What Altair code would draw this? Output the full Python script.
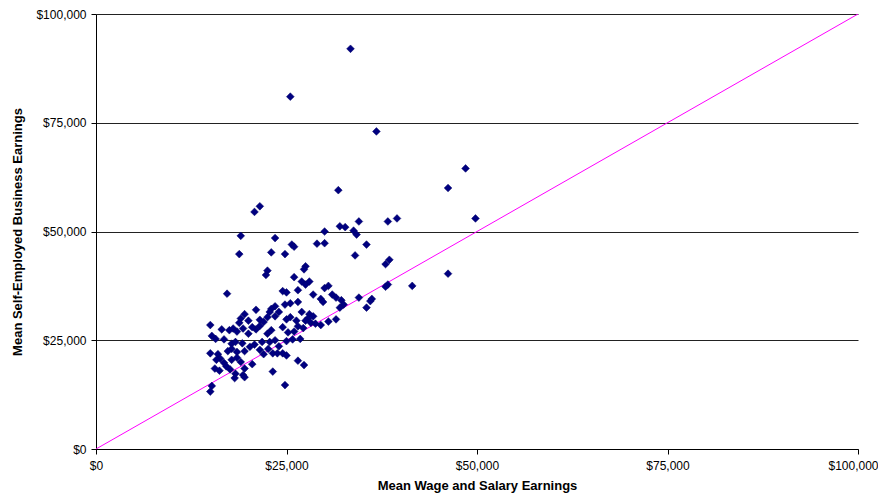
import altair as alt
import pandas as pd

# Mean wage & salary earnings (x) and mean self-employed business earnings (y), in dollars
wage = [
    33400, 25500, 36800, 48500, 46200, 31800, 21500, 20800, 49800, 39500,
    38300, 34500, 32000, 32700, 33800, 34200, 30000, 19000, 23500, 25700,
    26000, 29000, 30000, 35500, 18800, 23000, 24800, 34000, 38500, 38000,
    27500, 27300, 22500, 22300, 46200, 26000, 27000, 27500, 28000, 30500,
    30000, 38300, 38000, 41500, 26500, 24500, 25000, 17200, 28500, 31000,
    31500, 36200, 36000, 34500, 35500, 29500, 29800, 32200, 32500, 32000,
    26500, 25500, 24800, 23500, 23000, 22800, 24000, 21000, 19500, 19000,
    18800, 20000, 21500, 22000, 21500, 21000, 20500, 22500, 23500, 25500,
    25000, 27000, 28000, 27800, 28500, 28200, 27500, 26300, 26500, 28800,
    31500, 30500, 29500, 27200, 26000, 25200, 24500, 23000, 22500, 15000,
    16500, 17500, 18000, 18500, 19300, 20000, 15200, 15700, 16800, 17800,
    18300, 19200, 20200, 20800, 21800, 22800, 23500, 24000, 25000, 25800,
    26800, 22600, 23200, 23800, 24500, 25000, 21500, 22000, 19500, 18500,
    17800, 17300, 16000, 15000, 16300, 17800, 18500, 16800, 15800, 15600,
    17100, 17600, 19000, 20500, 19500, 18300, 18200, 19300, 19500, 16200,
    23200, 26500, 27300, 24800, 15200, 15000,
]
business = [
    92000, 81000, 73000, 64500, 60000, 59500, 55800, 54500, 53000, 53000,
    52300, 52300, 51200, 51000, 50200, 49300, 50000, 49000, 48500, 47000,
    46500, 47200, 47300, 47000, 44800, 45200, 44800, 44500, 43500, 42500,
    42000, 41300, 41000, 40000, 40300, 39500, 38500, 37800, 38500, 37500,
    37000, 37800, 37300, 37500, 36500, 36300, 36000, 35700, 35500, 35500,
    34800, 34500, 34000, 34800, 32500, 34500, 33800, 34200, 33200, 32500,
    33800, 33500, 33200, 32800, 32200, 31500, 31500, 32000, 31000, 30000,
    29000, 29500, 29700, 29200, 28300, 27500, 28000, 30300, 30500, 30300,
    29800, 31500, 31000, 30000, 30500, 29000, 29500, 29500, 28200, 28800,
    29800, 29300, 28500, 27800, 27000, 26800, 28000, 27300, 26500, 28500,
    27500, 27300, 27700, 27000, 27700, 26500, 26000, 25300, 25200, 24200,
    24600, 24300, 23500, 24000, 24600, 24600, 25000, 23600, 24800, 25200,
    25300, 23000, 22000, 22000, 22000, 21500, 22800, 21800, 22500, 22300,
    23000, 22500, 21800, 22000, 20800, 20500, 21000, 19800, 20500, 18500,
    19000, 18300, 20000, 19500, 18500, 17300, 16300, 17000, 16500, 18000,
    17800, 20300, 19300, 14700, 14500, 13200,
]

# Line of equality y = x
line_x = [0, 100000]
line_y = [0, 100000]

pts = pd.DataFrame({"wage": wage, "business": business})
ref = pd.DataFrame({"wage": line_x, "business": line_y})

ticks = [0, 25000, 50000, 75000, 100000]
xscale = alt.Scale(domain=[0, 100000], nice=False, zero=True)
yscale = alt.Scale(domain=[0, 100000], nice=False, zero=True)

FONT = "Liberation Sans"

xaxis = alt.Axis(
    title="Mean Wage and Salary Earnings",
    format="$,.0f",
    values=ticks,
    grid=False,
    domainColor="black",
    tickColor="black",
    tickSize=5,
    labelPadding=6,
    titlePadding=8,
    labelFontSize=12,
    titleFontSize=13,
    labelColor="black",
    titleColor="black",
    labelFont=FONT,
    titleFont=FONT,
    titleFontWeight="bold",
    labelFlush=False,
    labelOffset={"condition": {"test": "datum.value == 100000", "value": -5}, "value": 0},
)
yaxis = alt.Axis(
    title="Mean Self-Employed Business Earnings",
    format="$,.0f",
    values=ticks,
    grid=True,
    gridColor="#222222",
    gridOpacity=1,
    gridWidth=1,
    domainColor="black",
    tickColor="black",
    tickSize=5,
    labelPadding=5,
    titlePadding=11,
    labelFontSize=12,
    titleFontSize=13,
    labelColor="black",
    titleColor="black",
    labelFont=FONT,
    titleFont=FONT,
    titleFontWeight="bold",
    labelFlush=False,
)

line = alt.Chart(ref).mark_line(color="#FF00FF", strokeWidth=1, clip=True).encode(
    x=alt.X("wage:Q", scale=xscale, axis=xaxis),
    y=alt.Y("business:Q", scale=yscale, axis=yaxis),
)

points = alt.Chart(pts).mark_point(
    shape="diamond", filled=True, size=60, color="#000080", opacity=1,
    stroke="#000066", strokeWidth=0.5,
).encode(
    x=alt.X("wage:Q", scale=xscale),
    y=alt.Y("business:Q", scale=yscale),
)

chart = alt.layer(line, points).properties(
    width=762,
    height=435,
    autosize=alt.AutoSizeParams(type="none"),
    padding={"left": 88, "top": 6, "right": 20, "bottom": 44},
    background="white",
).configure_view(stroke=None)

chart.save("out.html", embed_options={"renderer": "svg", "actions": False})
